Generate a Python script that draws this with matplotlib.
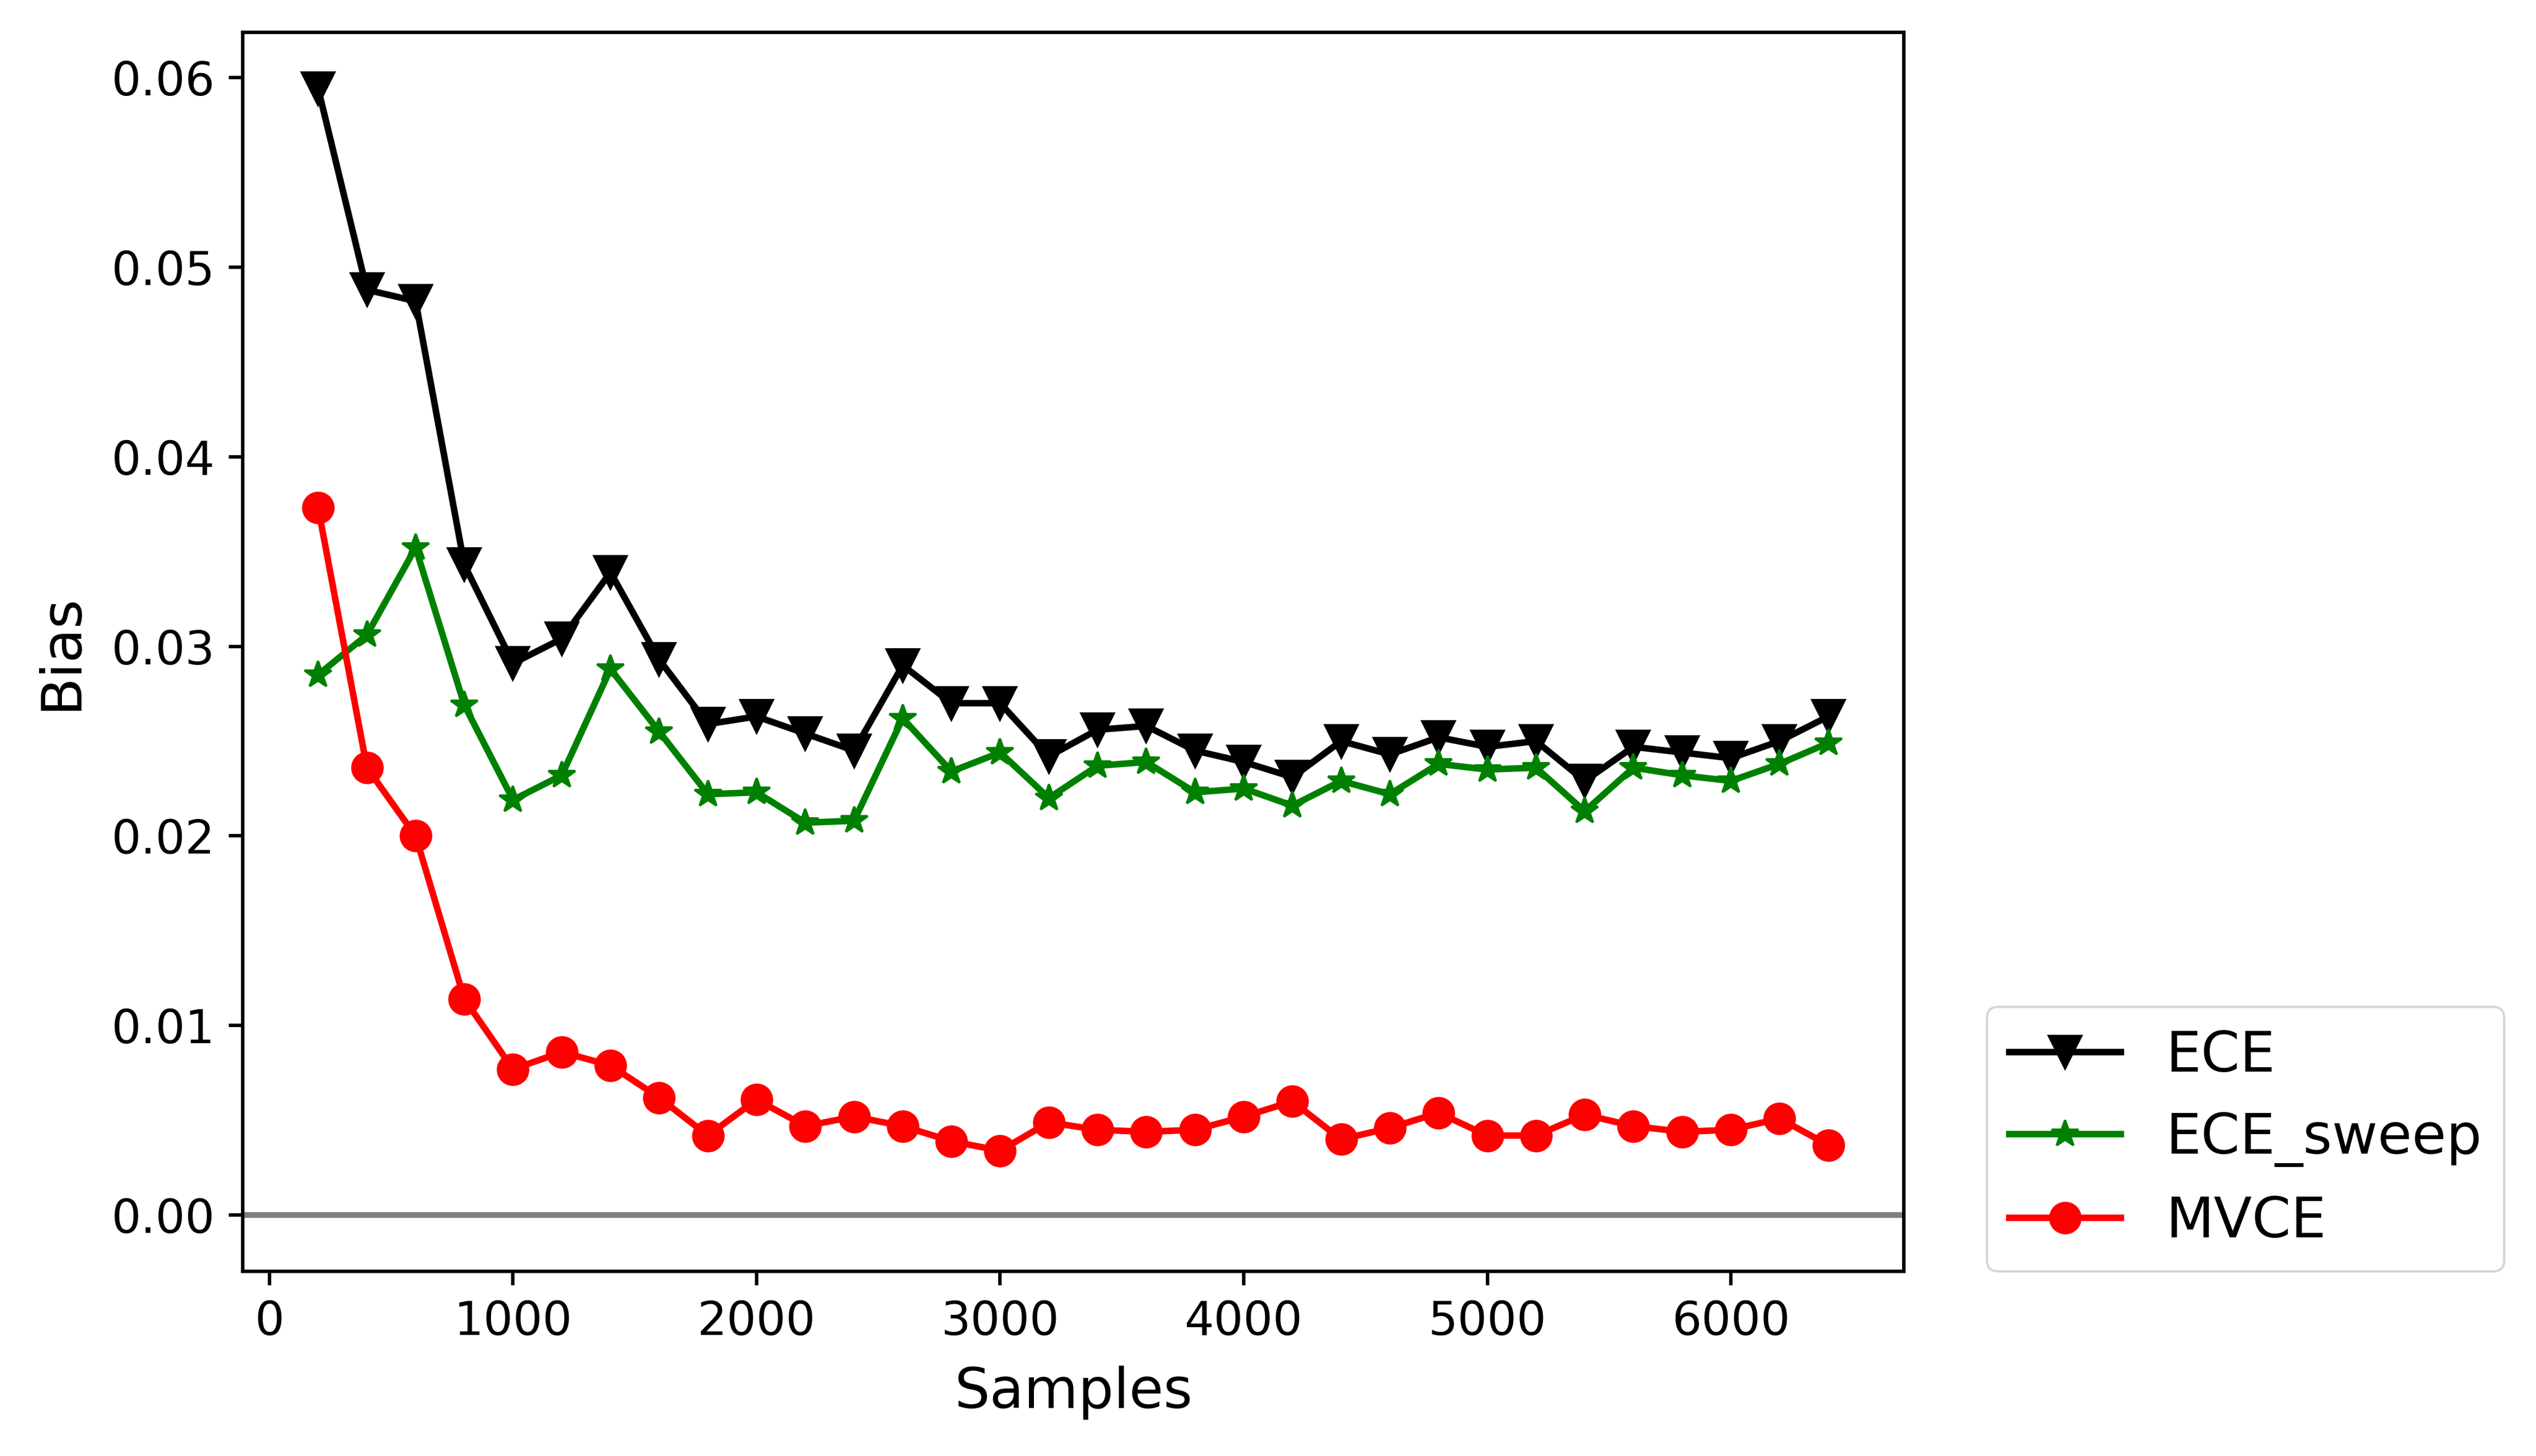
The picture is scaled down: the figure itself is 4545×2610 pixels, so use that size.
# Bias of calibration estimators vs. number of samples

import numpy as np
import matplotlib.pyplot as plt

samples = np.arange(200, 6401, 200)

ece = [0.0594, 0.0488, 0.0482, 0.0343, 0.0291, 0.0304, 0.0339, 0.0293,
       0.0259, 0.0263, 0.0254, 0.0245, 0.0290, 0.0270, 0.0270, 0.0242,
       0.0256, 0.0258, 0.0245, 0.0239, 0.0231, 0.0250, 0.0243, 0.0252,
       0.0247, 0.0250, 0.0229, 0.0247, 0.0244, 0.0241, 0.0250, 0.0263]

ece_sweep = [0.0285, 0.0306, 0.0352, 0.0269, 0.0219, 0.0232, 0.0288, 0.0255,
             0.0222, 0.0223, 0.0207, 0.0208, 0.0262, 0.0234, 0.0244, 0.0220,
             0.0237, 0.0239, 0.0223, 0.0225, 0.0216, 0.0229, 0.0222, 0.0238,
             0.0235, 0.0236, 0.0213, 0.0236, 0.0232, 0.0229, 0.0238, 0.0249]

mvce = [0.0373, 0.0236, 0.0200, 0.0114, 0.0077, 0.0086, 0.0079, 0.0062,
        0.0042, 0.0061, 0.0047, 0.0052, 0.0047, 0.0039, 0.0034, 0.0049,
        0.0045, 0.0044, 0.0045, 0.0052, 0.0060, 0.0040, 0.0046, 0.0054,
        0.0042, 0.0042, 0.0053, 0.0047, 0.0044, 0.0045, 0.0051, 0.0037]

fig = plt.figure(figsize=(15.15, 8.7), dpi=300)
ax = fig.add_axes([0.0957, 0.1267, 0.655, 0.851])

ax.axhline(0, color='gray', linewidth=2.5)
ax.plot(samples, ece, color='black', marker='v', markersize=14, linewidth=2.8, label='ECE')
ax.plot(samples, ece_sweep, color='green', marker='*', markersize=12, linewidth=2.8, label='ECE_sweep')
ax.plot(samples, mvce, color='red', marker='o', markersize=13, linewidth=2.8, label='MVCE')

ax.set_xlabel('Samples', fontsize=24, labelpad=9)
ax.set_ylabel('Bias', fontsize=24, labelpad=10)
ax.tick_params(labelsize=20, width=1.5, length=6, pad=6)
for s in ax.spines.values():
    s.set_linewidth(1.5)

ax.legend(loc='lower left', bbox_to_anchor=(1.05, 0), borderaxespad=0, fontsize=24)

plt.savefig('out.png', dpi=300)
